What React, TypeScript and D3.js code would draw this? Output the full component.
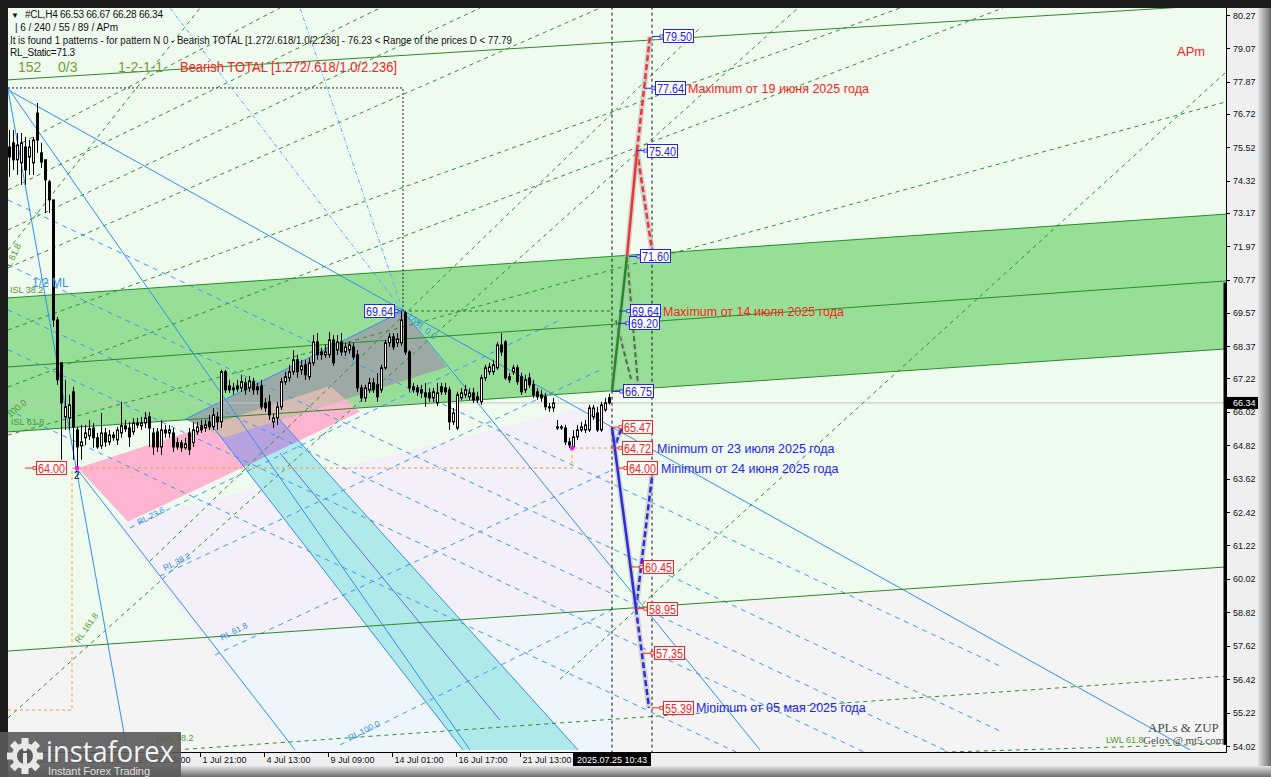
import * as d3 from "d3";
import { useEffect, useRef } from "react";

type Pt = [number, number]; // [bar index, price]

// H4 candles: open, high, low, close
const candles: [number, number, number, number][] = [
  [75.53, 76.14, 74.46, 75.17], [75.68, 76.14, 74.71, 75.07], [75.07, 76.03, 74.53, 75.6], [74.96, 76.03, 74.17, 75.68],
  [75.53, 75.89, 74.17, 74.71], [75.17, 75.78, 74.53, 75.53], [74.96, 75.89, 74.53, 75.78], [76.75, 77.11, 75.32, 75.78],
  [75.32, 75.68, 74.78, 74.99], [75.07, 75.07, 73.16, 74.35], [74.28, 74.35, 73.16, 73.63], [73.63, 73.63, 69.07, 69.32],
  [69.32, 69.43, 66.99, 67.17], [67.78, 67.78, 64.3, 66.34], [65.84, 67.17, 65.37, 66.2], [65.8, 66.63, 65.37, 66.27],
  [66.74, 66.92, 64.3, 65.48], [65.37, 65.48, 64.0, 64.76], [64.8, 65.55, 64.3, 64.94], [65.09, 65.55, 64.83, 65.26],
  [65.16, 65.73, 65.01, 65.41], [65.44, 65.62, 64.73, 65.09], [65.09, 65.26, 64.69, 64.76], [64.8, 65.98, 64.69, 65.26],
  [65.26, 65.44, 64.76, 64.94], [64.94, 65.37, 64.83, 65.19], [65.19, 65.3, 64.98, 65.09], [65.01, 65.48, 64.83, 65.37],
  [65.26, 66.38, 65.09, 65.52], [65.52, 65.73, 65.3, 65.41], [65.44, 65.66, 64.76, 65.12], [65.3, 65.8, 65.19, 65.62],
  [65.62, 65.8, 65.44, 65.55], [65.52, 65.84, 65.37, 65.62], [65.62, 66.02, 65.44, 65.8], [65.84, 66.02, 64.76, 65.44],
  [65.26, 65.44, 64.47, 64.76], [65.3, 65.44, 64.58, 64.76], [64.76, 65.73, 64.47, 65.37], [65.37, 65.55, 65.09, 65.26],
  [65.26, 65.55, 65.09, 65.37], [65.26, 65.44, 64.58, 64.76], [64.91, 65.09, 64.66, 64.76], [64.91, 65.01, 64.58, 64.73],
  [64.73, 65.09, 64.66, 64.87], [65.26, 65.44, 64.47, 64.66], [64.91, 65.66, 64.76, 65.37], [65.3, 65.66, 65.19, 65.48],
  [65.52, 65.73, 65.26, 65.37], [65.44, 65.73, 65.3, 65.55], [65.66, 65.91, 65.37, 65.48], [65.48, 66.16, 65.37, 65.91],
  [65.84, 66.02, 65.37, 65.66], [65.66, 67.53, 65.44, 67.46], [67.46, 67.53, 66.7, 66.81], [66.95, 67.17, 66.7, 66.81],
  [66.88, 67.06, 66.63, 66.81], [66.95, 67.17, 66.74, 66.84], [66.88, 67.35, 66.74, 67.1], [67.06, 67.24, 66.63, 66.81],
  [66.88, 67.31, 66.74, 67.13], [67.1, 67.24, 66.63, 66.81], [66.92, 67.06, 66.63, 66.81], [66.95, 67.17, 66.09, 66.2],
  [66.34, 66.52, 66.02, 66.16], [66.38, 66.63, 65.73, 65.91], [65.66, 65.95, 65.44, 65.8], [65.8, 66.38, 65.55, 66.2],
  [66.2, 67.24, 66.09, 67.1], [67.1, 67.46, 66.99, 67.28], [67.24, 67.71, 67.1, 67.46], [67.46, 68.24, 67.35, 67.89],
  [67.89, 68.07, 67.24, 67.46], [67.53, 67.89, 67.35, 67.67], [67.71, 67.89, 67.17, 67.35], [67.28, 67.96, 67.17, 67.78],
  [67.78, 68.78, 67.67, 68.53], [68.53, 68.85, 67.89, 68.07], [68.17, 68.32, 67.89, 68.07], [68.07, 68.42, 67.96, 68.17],
  [68.07, 68.89, 67.96, 68.6], [68.6, 68.78, 67.67, 67.78], [68.24, 68.78, 68.07, 68.53], [68.53, 68.85, 68.03, 68.17],
  [68.17, 68.5, 68.03, 68.35], [68.24, 68.53, 68.1, 68.42], [68.35, 68.5, 67.89, 67.99], [68.07, 68.24, 66.74, 66.88],
  [66.88, 66.99, 66.38, 66.52], [66.52, 66.99, 66.38, 66.88], [66.81, 67.24, 66.7, 67.06], [67.06, 67.24, 66.7, 66.81],
  [66.99, 67.42, 66.38, 66.56], [66.81, 67.71, 66.7, 67.6], [67.6, 68.6, 67.53, 68.5], [68.5, 68.85, 68.35, 68.71],
  [68.71, 68.85, 68.24, 68.35], [68.5, 68.85, 68.35, 68.64], [68.5, 69.64, 68.39, 69.32], [69.57, 69.64, 68.07, 68.17],
  [68.17, 68.24, 66.74, 66.88], [66.92, 67.06, 66.7, 66.81], [66.88, 66.99, 66.59, 66.74], [66.81, 66.99, 66.52, 66.7],
  [66.7, 67.06, 66.2, 66.56], [66.7, 66.88, 66.38, 66.52], [66.52, 66.88, 66.38, 66.74], [66.34, 67.06, 66.23, 66.7],
  [66.92, 67.06, 66.63, 66.74], [66.88, 67.06, 66.63, 66.74], [66.81, 66.92, 65.37, 65.66], [65.66, 66.16, 65.55, 65.98],
  [65.44, 66.74, 65.37, 66.63], [66.52, 66.88, 66.45, 66.7], [66.63, 66.99, 66.52, 66.81], [66.56, 66.88, 66.45, 66.7],
  [66.7, 66.88, 66.34, 66.45], [66.56, 66.74, 66.34, 66.45], [66.38, 67.35, 66.27, 67.24], [67.24, 67.71, 67.13, 67.6],
  [67.46, 67.78, 67.35, 67.63], [67.46, 67.89, 67.35, 67.71], [67.6, 68.53, 67.53, 68.42], [68.42, 68.85, 68.03, 68.17],
  [68.53, 68.6, 67.17, 67.24], [67.28, 67.42, 67.06, 67.17], [67.46, 67.71, 67.35, 67.6], [67.6, 67.71, 66.99, 67.1],
  [67.28, 67.42, 66.63, 66.74], [66.81, 67.35, 66.7, 67.17], [67.24, 67.42, 66.88, 66.99], [66.99, 67.17, 66.52, 66.63],
  [66.74, 66.88, 66.45, 66.56], [66.63, 66.81, 66.38, 66.52], [66.56, 66.7, 66.09, 66.2], [66.2, 66.34, 66.02, 66.16],
  [66.16, 66.52, 66.02, 66.34], [65.48, 65.73, 65.37, 65.44], [65.48, 65.55, 65.37, 65.44], [65.44, 65.55, 64.83, 64.94],
  [64.94, 65.09, 64.73, 64.83], [64.76, 65.37, 64.72, 65.12], [65.12, 65.55, 65.01, 65.37], [65.37, 65.66, 65.3, 65.48],
  [65.37, 65.73, 65.26, 65.55], [65.37, 66.27, 65.3, 66.16], [65.84, 66.27, 65.73, 66.16], [65.98, 66.2, 65.3, 65.37],
  [65.37, 66.38, 65.3, 66.27], [66.09, 66.52, 66.02, 66.34], [66.53, 66.67, 66.28, 66.34],
];

const priceTicks = [80.27, 79.07, 77.87, 76.72, 75.52, 74.32, 73.17, 71.97, 70.77, 69.57, 68.37, 67.22, 66.02, 64.82, 63.62, 62.42, 61.22, 60.02, 58.82, 57.62, 56.42, 55.22, 54.02];
const timeTickBars = [0, 16, 32, 48, 64, 80, 96, 112, 128];
const timeTickLabels = ["20 Jun 2025", "24 Jun 13:00", "27 Jun 05:00", "1 Jul 21:00", "4 Jul 13:00", "9 Jul 09:00", "14 Jul 01:00", "16 Jul 17:00", "21 Jul 13:00"];
const lastPrice = 66.34;
const cursorBar = 150.75;
const cursorLabel = "2025.07.25 10:43";

// filled zones (bar, price)
const greenBand: Pt[] = [[-0.25, 70.11], [304.25, 73.12], [304.25, 68.28], [-0.25, 65.3]];
const greyLowerZone: Pt[] = [[-0.25, 57.43], [304.25, 60.45], [304.25, 50], [-0.25, 50]];
const lavenderZone: Pt[] = [[26.75, 61.99], [150.75, 66.45], [150.75, 53.5], [71.5, 53.5]];
const lightBlueZone: Pt[] = [[49.25, 57.94], [150.75, 58.94], [150.75, 53.5], [71.5, 53.5]];
const cyanBand: Pt[] = [[49.25, 65.8], [67.25, 65.8], [142.25, 53.88], [113.5, 53.88]];
const pinkWedge: Pt[] = [[17.25, 64.0], [80.25, 66.95], [87.75, 66.02], [29.75, 62.07]];
const greyBox: Pt[] = [[44, 65.75], [98.5, 69.64], [109.5, 67.63], [54, 65.1]];

// trend lines
const greenSolid: Pt[][] = [
  [[-0.25, 70.11], [304.25, 73.12]],
  [[-0.25, 67.63], [304.25, 70.72]],
  [[-0.25, 65.3], [304.25, 68.28]],
  [[-0.25, 77.94], [304.25, 80.65]],
  [[-0.25, 57.43], [304.25, 60.45]],
];
const greenDashed: Pt[][] = [
  [[137.75, 56.42], [304.25, 78.22]],
  [[-0.25, 55.03], [197.75, 80.59]],
  [[-0.25, 66.91], [248.5, 80.52]],
  [[-0.25, 65.19], [304.25, 77.15]],
  [[-0.25, 68.96], [222.75, 80.52]],
  [[-0.25, 71.19], [147.75, 80.52]],
  [[-0.25, 72.55], [117.75, 80.52]],
  [[-0.25, 73.99], [92.75, 80.52]],
  [[-0.25, 75.42], [67.75, 80.52]],
  [[-0.25, 71.83], [47.75, 80.52]],
  [[35.25, 60.66], [172.75, 79.8]],
  [[42, 53.88], [304.25, 56.53]],
  [[167.75, 53.52], [304.25, 54.1]],
];
const blueSolid: Pt[][] = [
  [[-0.25, 77.58], [295.25, 53.88]],
  [[-0.25, 77.58], [29.5, 53.88]],
  [[-0.25, 77.65], [115.25, 53.88]],
  [[17, 63.97], [71.5, 53.88]],
  [[49.25, 65.8], [113.5, 53.88]],
  [[67.25, 65.8], [142.25, 53.88]],
  [[98.5, 69.64], [187.75, 53.88]],
  [[44, 65.75], [98.5, 69.64]],
];
const cyanMidLine: Pt[] = [[67.75, 64.54], [122.75, 54.95]];
const blueDashed: Pt[][] = [
  [[30.25, 61.85], [137.75, 69.32]],
  [[37.75, 60.12], [147.75, 67.52]],
  [[51.5, 57.29], [150.75, 63.93]],
  [[82.75, 54.06], [150.75, 58.91]],
  [[-0.25, 73.63], [247.75, 56.89]],
  [[-0.25, 71.3], [247.75, 54.56]],
  [[-0.25, 69.68], [247.75, 52.94]],
  [[-0.25, 68.25], [247.75, 51.51]],
  [[-0.25, 66.09], [247.75, 49.35]],
];
const blueDashDot: Pt[][] = [
  [[98.5, 69.64], [40.25, 80.52]],
  [[98.5, 69.64], [72.75, 80.52]],
];
const orangePath: Pt[] = [[-0.25, 55.31], [15.75, 55.31], [15.75, 64.0], [140.75, 64.0], [140.75, 64.72], [150.75, 64.72]];
const boxH: Pt[] = [[-0.25, 77.65], [98.5, 77.65], [98.5, 69.64]];
const highLevel: Pt[] = [[98.5, 69.64], [150.75, 69.64]];
const cursorBars = [150.75, 160.75];

// forecast zigzag (ZUP)
const redSolid: Pt[] = [[154.5, 71.6], [157, 75.4]];
const redDashed: Pt[][] = [[[157, 75.4], [160.25, 79.5]], [[157, 75.4], [160.75, 71.83]]];
const greenFcSolid: Pt[] = [[150.75, 66.75], [154.5, 71.6]];
const greenFcDashed: Pt[][] = [[[154.5, 71.6], [157.25, 67.0]], [[151.75, 69.3], [155.5, 67.2]]];
const blueFcSolid: Pt[] = [[150.75, 65.47], [156.75, 58.95]];
const blueFcDashed: Pt[][] = [[[156.75, 58.95], [161, 64.0]], [[156.75, 58.95], [160, 55.39]], [[151.75, 64.9], [153.25, 65.47]]];

const levelValues = [79.5, 77.64, 75.4, 71.6, 69.64, 69.2, 66.75, 65.47, 64.72, 64.0, 60.45, 58.95, 57.35, 55.39, 69.64, 64.0];
const levelBars = [163.5, 161.5, 159.5, 157.75, 155.25, 155, 153.5, 153.25, 153.25, 154.5, 158.5, 159.5, 161.25, 163.5, 88.75, 6.75];
const levelColors = ["b", "b", "b", "b", "b", "b", "b", "r", "r", "r", "r", "r", "r", "r", "b", "r"];

const noteTexts = ["Maximum от 19 июня 2025 года", "Maximum от 14 июля 2025 года", "Minimum от 23 июля 2025 года", "Minimum от 24 июня 2025 года", "Minimum от 05 мая 2025 года"];
const notePrices = [77.64, 69.64, 64.72, 64.0, 55.39];
const noteBars = [169.75, 163.5, 162, 163, 171.75];
const noteColors = ["r", "r", "b", "b", "b"];

const headerLines = [
  "#CL,H4  66.53 66.67 66.28 66.34",
  "| 6 / 240 / 55 / 89 / APm",
  "It is found 1 patterns  -  for pattern N 0 - Bearish TOTAL [1.272/.618/1.0/2.236] - 76.23 < Range of the prices D < 77.79",
  "RL_Static=71.3",
];

const FONT = "Liberation Sans, Arial, sans-serif";
const BLUE = "#2222ff";
const RED = "#ff2020";

const App = () => {
  const ref = useRef<SVGSVGElement>(null);

  useEffect(() => {
    const svg = d3.select(ref.current);
    svg.selectAll("*").remove();

    const x = d3.scaleLinear().domain([0, 150]).range([9, 609]);
    const y = d3.scaleLinear().domain([54.02, 80.27]).range([746, 15]);
    const poly = (pts: Pt[]) => "M" + pts.map((p) => `${x(p[0])},${y(p[1])}`).join("L") + "Z";
    const path = (pts: Pt[]) => "M" + pts.map((p) => `${x(p[0])},${y(p[1])}`).join("L");

    const defs = svg.append("defs");
    const gr = defs.append("linearGradient").attr("id", "bevR").attr("x1", 0).attr("x2", 1).attr("y1", 0).attr("y2", 0);
    gr.append("stop").attr("offset", 0).attr("stop-color", "#e4e4e4");
    gr.append("stop").attr("offset", 1).attr("stop-color", "#6a6a6a");
    const gb = defs.append("linearGradient").attr("id", "bevB").attr("x1", 0).attr("x2", 0).attr("y1", 0).attr("y2", 1);
    gb.append("stop").attr("offset", 0).attr("stop-color", "#e4e4e4");
    gb.append("stop").attr("offset", 1).attr("stop-color", "#6a6a6a");
    defs.append("clipPath").attr("id", "plot").append("rect").attr("x", 8).attr("y", 8).attr("width", 1218).attr("height", 744);
    defs.append("clipPath").attr("id", "cyanClip").append("path").attr("d", poly(cyanBand));
    defs.append("clipPath").attr("id", "greyClip").append("path").attr("d", poly(greyBox));

    // frame
    svg.append("rect").attr("width", 1271).attr("height", 777).attr("fill", "#1b1b1b");
    svg.append("rect").attr("x", 8).attr("y", 8).attr("width", 1250).attr("height", 758).attr("fill", "#efefef");
    svg.append("rect").attr("x", 1258).attr("y", 8).attr("width", 13).attr("height", 769).attr("fill", "url(#bevR)");
    svg.append("rect").attr("x", 8).attr("y", 766).attr("width", 1263).attr("height", 11).attr("fill", "url(#bevB)");

    const g = svg.append("g").attr("clip-path", "url(#plot)");
    g.append("rect").attr("x", 8).attr("y", 8).attr("width", 1218).attr("height", 744).attr("fill", "#effbef");

    // zones
    g.append("path").attr("d", poly(greyLowerZone)).attr("fill", "#f4f4f4");
    g.append("path").attr("d", poly(lavenderZone)).attr("fill", "#f3f0f9");
    g.append("path").attr("d", poly(lightBlueZone)).attr("fill", "#eef5fb");
    g.append("path").attr("d", poly(greenBand)).attr("fill", "#97df97");
    g.append("path").attr("d", poly(cyanBand)).attr("fill", "#afe9e9");
    g.append("path").attr("d", poly(pinkWedge)).attr("fill", "#ffb4cf");
    g.append("path").attr("d", poly(pinkWedge)).attr("fill", "#b7a2de").attr("clip-path", "url(#cyanClip)");
    g.append("path").attr("d", poly(greyBox)).attr("fill", "#9da9a5");
    g.append("path").attr("d", poly(pinkWedge)).attr("fill", "#d7bab2").attr("clip-path", "url(#greyClip)");

    // current price line
    g.append("line").attr("x1", 8).attr("x2", 1226).attr("y1", y(lastPrice)).attr("y2", y(lastPrice)).attr("stroke", "#c4c4c4");

    const lines = (set: Pt[][], stroke: string, w: number, dash?: string) => {
      g.append("g").selectAll("path").data(set).join("path")
        .attr("d", (d) => path(d)).attr("fill", "none").attr("stroke", stroke).attr("stroke-width", w)
        .attr("stroke-dasharray", dash ?? null);
    };
    lines(greenDashed, "#2f8f2f", 1, "4,4");
    lines(blueDashed, "#3898ff", 1, "5,5");
    lines(blueDashDot, "#56aaff", 1, "4,2,1,2");
    lines(blueSolid, "#2f8ff6", 1);
    lines([cyanMidLine], "#6a6ad8", 1);
    lines(greenSolid, "#2a8a2a", 1);
    lines([orangePath], "#f39a2b", 1, "3,3");
    lines([boxH], "#222", 1, "2,2");
    lines([highLevel], "#2a6a2a", 1, "3,3");
    lines(cursorBars.map((b) => [[b, 81], [b, 53]] as Pt[]), "#111", 1, "3,3");

    // right-edge bar
    g.append("rect").attr("x", 1223.5).attr("y", y(70.66)).attr("width", 3).attr("height", y(54.06) - y(70.66)).attr("fill", "#000");

    // candles
    const cg = g.append("g");
    candles.forEach((c, i) => {
      const cx = Math.round(x(i)) + 0.5;
      const [o, h, l, cl] = c;
      cg.append("line").attr("x1", cx).attr("x2", cx).attr("y1", y(h)).attr("y2", y(l)).attr("stroke", "#000");
      const top = y(Math.max(o, cl));
      const bh = Math.max(1, y(Math.min(o, cl)) - top);
      if (cl >= o) {
        cg.append("rect").attr("x", cx - 1).attr("y", top).attr("width", 2).attr("height", bh)
          .attr("fill", "#fff").attr("stroke", "#000");
      } else {
        cg.append("rect").attr("x", cx - 1.5).attr("y", top - 0.5).attr("width", 3).attr("height", bh + 1).attr("fill", "#000");
      }
    });

    // pink markers
    [[17, 64.0], [140.75, 64.72]].forEach((p) => {
      g.append("rect").attr("x", x(p[0]) - 2).attr("y", y(p[1]) - 2).attr("width", 4).attr("height", 4).attr("fill", "#ff10ff");
    });
    g.append("text").attr("x", x(17) - 3).attr("y", y(64.0) + 11).attr("font-family", FONT).attr("font-size", 10).text("2");

    // forecast zigzag with shadow
    const zz = (pts: Pt[], stroke: string, w: number, dash?: string) => {
      g.append("path").attr("d", path(pts)).attr("fill", "none").attr("stroke", "#b5b5b5").attr("stroke-width", w + 3).attr("opacity", 0.55);
      g.append("path").attr("d", path(pts)).attr("fill", "none").attr("stroke", stroke).attr("stroke-width", w).attr("stroke-dasharray", dash ?? null);
    };
    redDashed.forEach((p) => zz(p, "#ee3535", 2.5, "6,3"));
    zz(redSolid, "#ee3535", 2.5);
    greenFcDashed.forEach((p) => zz(p, "#1e8e1e", 2, "5,3"));
    zz(greenFcSolid, "#1e8e1e", 2.5);
    blueFcDashed.forEach((p) => zz(p, "#2b2bdd", 2.5, "6,3"));
    zz(blueFcSolid, "#2b2bdd", 2.5);

    // level labels
    levelValues.forEach((v, i) => {
      const col = levelColors[i] === "b" ? BLUE : RED;
      const bx = x(levelBars[i]);
      const by = y(v);
      const right = i === 14;
      const cx0 = right ? bx + 31 : bx - 11;
      const cx1 = right ? bx + 38 : bx;
      g.append("line").attr("x1", cx0).attr("x2", cx1).attr("y1", by).attr("y2", by).attr("stroke", col);
      g.append("rect").attr("x", (right ? bx + 31 : bx - 3)).attr("y", by - 1.5).attr("width", 3).attr("height", 3).attr("fill", "#fff").attr("stroke", col).attr("stroke-width", 0.8);
      g.append("rect").attr("x", bx + 0.5).attr("y", Math.round(by) - 6.5).attr("width", 30).attr("height", 13).attr("fill", "#fff").attr("stroke", col);
      g.append("text").attr("x", bx + 2).attr("y", Math.round(by) + 4.5).attr("font-family", FONT).attr("font-size", 12)
        .attr("fill", col).attr("textLength", 27).attr("lengthAdjust", "spacingAndGlyphs").text(v.toFixed(2));
    });
    noteTexts.forEach((t, i) => {
      g.append("text").attr("x", x(noteBars[i])).attr("y", y(notePrices[i]) + 4.5).attr("font-family", FONT).attr("font-size", 12.5)
        .attr("fill", noteColors[i] === "b" ? BLUE : RED).text(t);
    });

    // small object captions
    const cap = (t: string, p: Pt, col: string, size: number, rot = 0) => {
      g.append("text").attr("transform", `translate(${x(p[0])},${y(p[1])}) rotate(${rot})`)
        .attr("font-family", FONT).attr("font-size", size).attr("fill", col).text(t);
    };
    cap("RL 23.6", [32.5, 61.95], "#3a8fe8", 8.5, -27);
    cap("RL 38.2", [39, 60.3], "#3a8fe8", 8.5, -27);
    cap("RL 61.8", [53.25, 57.8], "#3a8fe8", 8.5, -27);
    cap("RL 100.0", [85.25, 54.2], "#3a8fe8", 8.5, -27);
    cap("RL 161.8", [17.5, 57.7], "#4f9a2a", 8.5, -55);
    cap("LWL 38.2", [36.75, 54.2], "#4f9a2a", 9);
    cap("LWL 61.8", [274.25, 54.13], "#4f9a2a", 9);
    cap("ISL 38.2", [0.25, 70.3], "#4f9a2a", 9);
    cap("1/2 ML", [5.75, 70.5], "#3a8fe8", 12);
    cap("ISL 61.8", [0.5, 65.55], "#4f9a2a", 9);
    cap("100.0", [0.25, 65.8], "#4f9a2a", 9, -40);
    cap("L 61.8", [0.5, 71.2], "#4f9a2a", 9, -65);
    cap("UWL 0.0", [99.5, 69.4], "#3a8fe8", 9, 40);
    cap("APm", [292, 78.8], RED, 13);

    g.append("text").attr("x", 1148).attr("y", 732).attr("font-family", "Liberation Serif, serif").attr("font-size", 13).attr("fill", "#4a4a4a").text("APLs & ZUP");
    g.append("text").attr("x", 1143).attr("y", 744).attr("font-family", "Liberation Serif, serif").attr("font-size", 11).attr("fill", "#4a4a4a").text("Gelox @ mt5.com");

    // header
    const hd = svg.append("g").attr("font-family", FONT).attr("fill", "#111");
    hd.append("text").attr("x", 11).attr("y", 18).attr("font-size", 8).text("▼");
    hd.append("text").attr("x", 25).attr("y", 18).attr("font-size", 10).attr("textLength", 138).text(headerLines[0]);
    hd.append("text").attr("x", 15).attr("y", 31).attr("font-size", 10).attr("textLength", 103).text(headerLines[1]);
    hd.append("text").attr("x", 10).attr("y", 44).attr("font-size", 10).attr("textLength", 502).attr("lengthAdjust", "spacingAndGlyphs").text(headerLines[2]);
    hd.append("text").attr("x", 10).attr("y", 56).attr("font-size", 10).attr("textLength", 65).text(headerLines[3]);
    const olive = "#6f9f2c";
    hd.append("text").attr("x", 18).attr("y", 72).attr("font-size", 14).attr("fill", olive).text("152");
    hd.append("text").attr("x", 58).attr("y", 72).attr("font-size", 14).attr("fill", olive).text("0/3");
    hd.append("text").attr("x", 118).attr("y", 72).attr("font-size", 14).attr("fill", olive).text("1-2-1-1");
    hd.append("text").attr("x", 180).attr("y", 72).attr("font-size", 14).attr("fill", RED).attr("textLength", 217).attr("lengthAdjust", "spacingAndGlyphs").text("Bearish TOTAL [1.272/.618/1.0/2.236]");

    // axes
    svg.append("line").attr("x1", 1226.5).attr("x2", 1226.5).attr("y1", 8).attr("y2", 752).attr("stroke", "#000");
    svg.append("line").attr("x1", 8).attr("x2", 1227).attr("y1", 752.5).attr("y2", 752.5).attr("stroke", "#000");
    const ax = svg.append("g").attr("font-family", FONT).attr("font-size", 9).attr("fill", "#111");
    priceTicks.forEach((v) => {
      ax.append("line").attr("x1", 1226).attr("x2", 1230).attr("y1", Math.round(y(v)) + 0.5).attr("y2", Math.round(y(v)) + 0.5).attr("stroke", "#000");
      ax.append("text").attr("x", 1233).attr("y", y(v) + 3.5).text(v.toFixed(2));
    });
    ax.append("rect").attr("x", 1227).attr("y", y(lastPrice) - 6).attr("width", 31).attr("height", 12).attr("fill", "#000");
    ax.append("text").attr("x", 1233).attr("y", y(lastPrice) + 3.5).attr("fill", "#fff").text(lastPrice.toFixed(2));
    timeTickBars.forEach((b, i) => {
      const tx = Math.round(x(b)) - 0.5;
      ax.append("line").attr("x1", tx).attr("x2", tx).attr("y1", 752).attr("y2", 757).attr("stroke", "#000");
      ax.append("text").attr("x", tx + 2).attr("y", 763).text(timeTickLabels[i]);
    });
    ax.append("rect").attr("x", x(cursorBar) - 39).attr("y", 753).attr("width", 78).attr("height", 13).attr("fill", "#000");
    ax.append("text").attr("x", x(cursorBar)).attr("y", 763).attr("text-anchor", "middle").attr("fill", "#fff").text(cursorLabel);

    // logo (semi-transparent, over the first time labels as in the screenshot)
    const lg = svg.append("g");
    lg.append("rect").attr("x", 0).attr("y", 732).attr("width", 181).attr("height", 45).attr("fill", "#5a5a5a").attr("opacity", 0.9);
    const gcx = 25, gcy = 756;
    d3.range(8).forEach((k) => {
      lg.append("rect").attr("x", gcx - 3.5).attr("y", gcy - 18).attr("width", 7).attr("height", 8).attr("fill", "#e8e8e8")
        .attr("transform", `rotate(${k * 45},${gcx},${gcy})`);
    });
    lg.append("circle").attr("cx", gcx).attr("cy", gcy).attr("r", 13).attr("fill", "#e8e8e8");
    lg.append("circle").attr("cx", gcx).attr("cy", gcy).attr("r", 8).attr("fill", "#5a5a5a");
    lg.append("rect").attr("x", gcx - 2).attr("y", gcy - 3).attr("width", 4).attr("height", 21).attr("fill", "#e8e8e8");
    lg.append("circle").attr("cx", gcx).attr("cy", gcy - 7).attr("r", 2.3).attr("fill", "#e8e8e8");
    lg.append("text").attr("x", 46).attr("y", 762).attr("font-family", "Open Sans, Liberation Sans, sans-serif").attr("font-size", 30)
      .attr("fill", "#f2f2f2").attr("textLength", 128).attr("lengthAdjust", "spacingAndGlyphs").text("instaforex");
    lg.append("text").attr("x", 48).attr("y", 775).attr("font-family", FONT).attr("font-size", 11).attr("fill", "#e0e0e0")
      .attr("textLength", 102).text("Instant Forex Trading");
  }, []);

  return <svg ref={ref} width={1271} height={777} style={{ position: "absolute", left: 0, top: 0 }} />;
};

export default App;
